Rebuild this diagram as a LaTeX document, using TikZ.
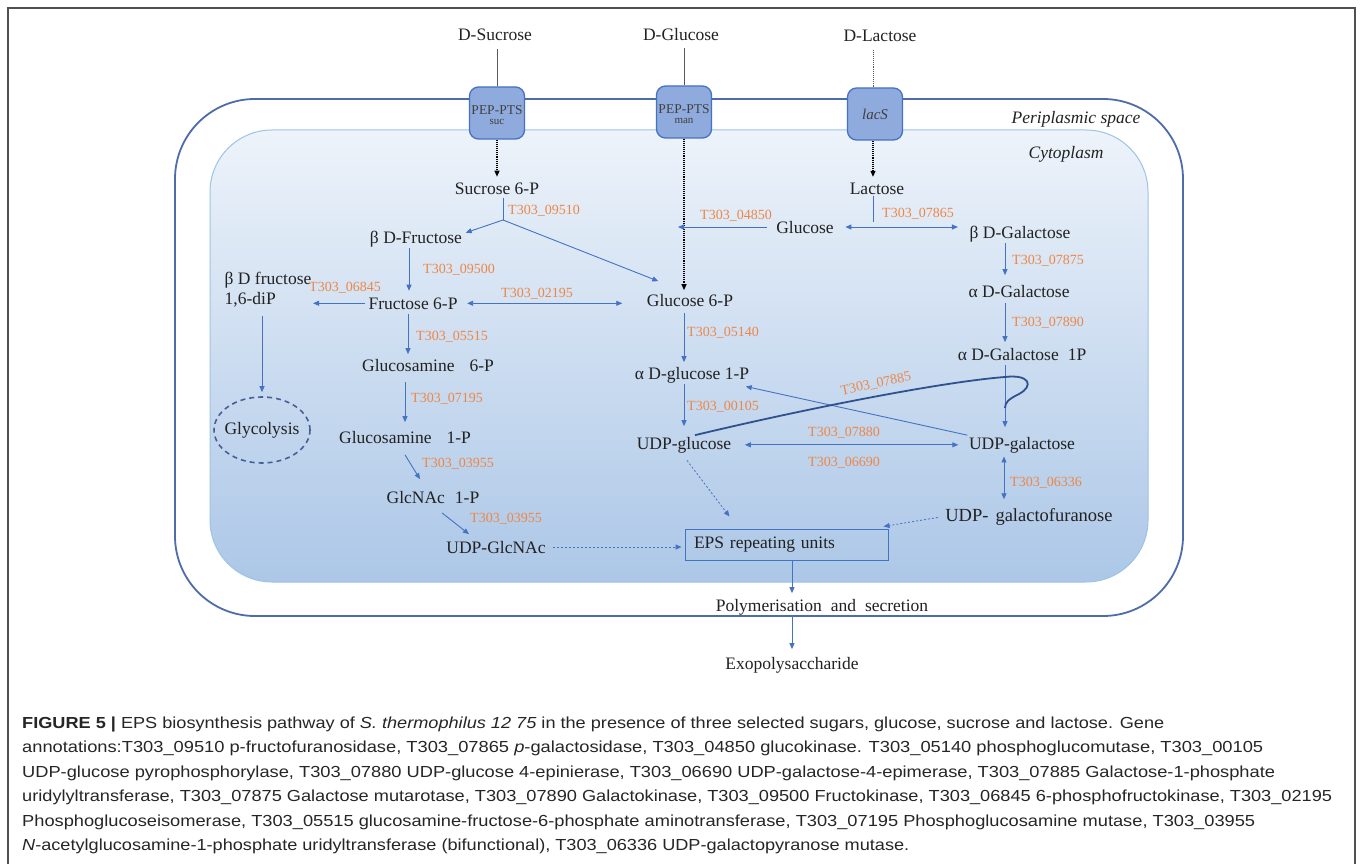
\documentclass[tikz,border=0pt]{standalone}
\usepackage{fontspec}
\setmainfont{Liberation Serif}
\newfontfamily\capfont{Liberation Sans}
\usepackage{graphicx}
\usetikzlibrary{arrows.meta,calc,shapes.geometric}
\definecolor{arrblue}{RGB}{68,114,196}
\definecolor{geneor}{RGB}{236,135,72}
\definecolor{curveblue}{RGB}{47,82,143}
\definecolor{boxfill}{RGB}{143,170,220}
\definecolor{boxline}{RGB}{68,114,196}
\definecolor{cellline}{RGB}{79,108,170}
\definecolor{cytoline}{RGB}{157,195,230}
\definecolor{cytotop}{RGB}{237,243,250}
\definecolor{cytomid}{RGB}{198,217,239}
\definecolor{cytobot}{RGB}{172,199,231}
\definecolor{txt}{RGB}{34,34,34}
\definecolor{framegray}{RGB}{80,80,80}
\definecolor{glycline}{RGB}{70,96,150}
\newsavebox\capboxA
\newcommand\capfirst{\textbf{FIGURE 5 |} EPS biosynthesis pathway of \textit{S. thermophilus 12 75} in the presence of three selected sugars, glucose, sucrose and lactose. Gene}
\begin{document}
\sbox\capboxA{\capfont\fontsize{16}{19}\selectfont\capfirst}
\pgfmathsetmacro\capfac{1142/\wd\capboxA}
\begin{tikzpicture}[x=1pt,y=-1pt,
  lbl/.style={font=\fontsize{17.5}{20}\selectfont, text=txt, inner sep=1.5pt, anchor=base},
  itl/.style={font=\fontsize{17.5}{20}\selectfont\itshape, text=txt, inner sep=1.5pt, anchor=base},
  gene/.style={font=\fontsize{14}{16}\selectfont, text=geneor, inner sep=1pt, anchor=base},
  tipend/.style={-{Triangle[length=6pt,width=5pt]}},
  arr/.style={draw=arrblue, line width=0.9pt, tipend},
  dblarr/.style={draw=arrblue, line width=0.9pt, {Triangle[length=6pt,width=5pt]}-{Triangle[length=6pt,width=5pt]}},
  plainblue/.style={draw=arrblue, line width=0.9pt},
  blkdot/.style={draw=black, densely dotted, line width=1.1pt, tipend},
  grayline/.style={draw=black!65, line width=0.9pt},
  dotblue/.style={draw=arrblue, dash pattern=on 2pt off 2pt, line width=0.8pt, tipend},
  tbox/.style={draw=boxline, fill=boxfill, line width=1.3pt, rounded corners=9pt,
    minimum width=55pt, minimum height=52pt, inner sep=0pt, align=center, text=black!75},
  epsbox/.style={draw=arrblue, line width=1pt, minimum width=203pt, minimum height=31pt,
    text width=185pt, align=left, inner xsep=9pt, inner ysep=0pt,
    font=\fontsize{17.5}{20}\selectfont, text=txt},
  glycnode/.style={ellipse, draw=glycline, dash pattern=on 5pt off 4pt, line width=1.6pt,
    minimum width=96pt, minimum height=66pt, inner sep=0pt, font=\fontsize{17.5}{20}\selectfont, text=txt},
  captext/.style={font=\capfont\fontsize{16}{19}\selectfont, text=black!85, inner sep=0pt, anchor=base west},
  loopline/.style={draw=curveblue, line width=1.8pt}
]
\useasboundingbox (0,0) rectangle (1360,864);
\fill[white] (0,0) rectangle (1360,864);
\draw[framegray, line width=1.4pt] (8,870) -- (8,8) -- (1355,8) -- (1355,870);

% cell envelope
\draw[cellline, line width=1.8pt, rounded corners=80pt, fill=white] (175,99) rectangle (1183,616);
\shade[top color=cytotop, middle color=cytomid, bottom color=cytobot, rounded corners=62pt] (210,130) rectangle (1148,582);
\draw[cytoline, line width=1pt, rounded corners=62pt] (210,130) rectangle (1148,582);

\node[itl] (peri) at (1076,124) {Periplasmic space};
\node[itl] (cyto) at (1066,158) {Cytoplasm};

% sugars outside
\node[lbl] (dsuc) at (495,41) {D-Sucrose};
\node[lbl] (dglc) at (681,41) {D-Glucose};
\node[lbl] (dlac) at (880,42) {D-Lactose};

% transporters
\node[tbox] (sucbox) at (497,113) {\rule{0pt}{14pt}\fontsize{13.5}{14}\selectfont PEP-PTS\\[-2pt]\fontsize{11}{12}\selectfont suc};
\node[tbox] (manbox) at (684,112) {\rule{0pt}{14pt}\fontsize{13.5}{14}\selectfont PEP-PTS\\[-2pt]\fontsize{11}{12}\selectfont man};
\node[tbox] (lacbox) at (875,114) {\fontsize{15}{16}\selectfont\itshape lacS};

% metabolites
\node[lbl] (suc6p) at (497,194) {Sucrose 6-P};
\node[lbl] (lac) at (877,194) {Lactose};
\node[lbl] (bfru) at (416,243) {β D-Fructose};
\node[lbl] (glc) at (805,233) {Glucose};
\node[lbl] (bgal) at (1020,238) {β D-Galactose};
\node[lbl] (fru6p) at (413,309) {Fructose 6-P};
\node[lbl, align=left, anchor=base west] (bfdp) at (223,304) {β D fructose\\1,6-diP};
\node[lbl] (glc6p) at (690,306) {Glucose 6-P};
\node[lbl] (agal) at (1019,297) {α D-Galactose};
\node[lbl] (agal1p) at (1022,360) {α D-Galactose\hspace{9pt}1P};
\node[lbl] (gln6p) at (428,371) {Glucosamine\hspace{15pt}6-P};
\node[lbl] (aglc1p) at (692,379) {α D-glucose 1-P};
\node[lbl] (gln1p) at (405,443) {Glucosamine\hspace{15pt}1-P};
\node[lbl] (udpglc) at (684,449) {UDP-glucose};
\node[lbl] (udpgal) at (1022,449) {UDP-galactose};
\node[glycnode] (glyc) at (262,430) {\makebox[0pt]{Glycolysis}};
\node[lbl] (glcnac1p) at (433,503) {GlcNAc\hspace{10pt}1-P};
\node[lbl] (udpglcnac) at (496,553) {UDP-GlcNAc};
\node[lbl, font=\fontsize{18.5}{20}\selectfont] (udpgalf) at (1029,521) {UDP-\hspace{7pt}galactofuranose};
\node[epsbox] (eps) at (786.5,544.5) {EPS repeating units};
\node[lbl] (poly) at (822,611) {Polymerisation\hspace{9pt}and\hspace{9pt}secretion};
\node[lbl] (exo) at (792,669) {Exopolysaccharide};

% gene labels
\node[gene] (g09510) at (544,214.5) {T303\_09510};
\node[gene] (g04850) at (736,219.5) {T303\_04850};
\node[gene] (g07865) at (918,217.5) {T303\_07865};
\node[gene] (g09500) at (459,273.5) {T303\_09500};
\node[gene] (g06845) at (345,291.5) {T303\_06845};
\node[gene] (g02195) at (537,297.5) {T303\_02195};
\node[gene] (g07875) at (1048,264.5) {T303\_07875};
\node[gene] (g07890) at (1048,326.5) {T303\_07890};
\node[gene] (g05515) at (452,340.5) {T303\_05515};
\node[gene] (g05140) at (723,336.5) {T303\_05140};
\node[gene] (g07195) at (447,402.5) {T303\_07195};
\node[gene] (g00105) at (723,410.5) {T303\_00105};
\node[gene, anchor=center, rotate=12] (g07885) at (876,384) {T303\_07885};
\node[gene] (g07880) at (844,436.5) {T303\_07880};
\node[gene] (g06690) at (844,466.5) {T303\_06690};
\node[gene] (g03955a) at (458,467.5) {T303\_03955};
\node[gene] (g03955b) at (506,522.5) {T303\_03955};
\node[gene] (g06336) at (1046,486.5) {T303\_06336};

% uptake
\draw[grayline, shorten >=6pt] (sucbox.north) -- (sucbox.north |- dsuc.south);
\draw[grayline, shorten >=5pt] (manbox.north) -- (manbox.north |- dglc.south);
\draw[grayline, densely dotted, shorten >=6pt] ([xshift=-2pt]lacbox.north) -- ([xshift=-2pt]lacbox.north |- dlac.south);
\draw[blkdot, shorten >=4pt] (sucbox.south) -- (sucbox.south |- suc6p.north);
\draw[blkdot, shorten >=2pt] (manbox.south) -- (manbox.south |- glc6p.north);
\draw[blkdot, shorten >=4pt] ([xshift=-2pt]lacbox.south) -- ([xshift=-2pt]lacbox.south |- lac.north);

% sucrose branch
\coordinate (br1) at (503,220);
\draw[plainblue, shorten <=2pt] ([xshift=6pt]suc6p.south) -- (br1);
\draw[arr] (br1) -- ($(bfru.east)+(2,-6)$);
\draw[arr] (br1) -- ($(glc6p.north west)+(13,-11)$);

% lactose branch
\coordinate (br2) at (873,222);
\draw[plainblue] (lac.south -| br2) -- (br2);
\draw[dblarr, shorten <=10pt, shorten >=10pt] (glc.east) -- (glc.east -| bgal.west);
\draw[arr, shorten <=8pt, shorten >=-6pt] (glc.west) -- (glc.west -| manbox.south);

% fructose side
\draw[arr, shorten >=5pt] ([xshift=-7pt]bfru.south) -- ([xshift=-7pt]bfru.south |- fru6p.north);
\draw[arr, shorten <=2pt] (fru6p.west) -- (fru6p.west -| bfdp.east);
\draw[dblarr, shorten <=8pt, shorten >=23pt] (fru6p.east) -- (fru6p.east -| glc6p.west);
\draw[arr, shorten <=3pt, shorten >=3pt] ([xshift=-5pt]fru6p.south) -- ([xshift=-5pt]fru6p.south |- gln6p.north);
\draw[arr, shorten <=9pt, shorten >=7pt] (gln1p.north |- gln6p.south) -- (gln1p.north);
\draw[arr, shorten <=8pt, shorten >=4pt] (glyc.north |- bfdp.south) -- (glyc.north);
\draw[arr] ($(gln1p.south)+(0,10)$) -- ($(glcnac1p.north)+(-13,-10)$);
\draw[arr] ($(glcnac1p.south)+(9,8)$) -- ($(udpglcnac.north)+(-27,-5)$);
\draw[dotblue, shorten <=6pt, shorten >=3pt] (udpglcnac.east) -- (udpglcnac.east -| eps.west);

% glucose side
\draw[arr, shorten <=5pt, shorten >=3pt] ([xshift=-6pt]glc6p.south) -- ([xshift=-6pt]glc6p.south |- aglc1p.north);
\draw[arr, shorten >=9pt] (udpglc.north |- aglc1p.south) -- (udpglc.north);
\draw[dotblue] ($(udpglc.south)+(3,6)$) -- ($(eps.north west)+(45,-12)$);
\draw[dblarr, shorten <=12pt, shorten >=9pt] (udpglc.east) -- (udpglc.east -| udpgal.west);

% galactose side
\draw[arr, shorten >=8pt] ([xshift=-15pt]bgal.south) -- ([xshift=-15pt]bgal.south |- agal.north);
\draw[arr, shorten <=4pt, shorten >=4pt] ([xshift=-14pt]agal.south) -- ([xshift=-14pt]agal.south |- agal1p.north);
\draw[arr, shorten <=3pt, shorten >=8pt] ([xshift=-17pt]agal1p.south) -- ([xshift=-17pt]agal1p.south |- udpgal.north);
\draw[arr] (udpgal.north west) -- ($(aglc1p.south east)+(-5,2)$);
\draw[dblarr, shorten <=2pt, shorten >=7pt] ([xshift=-18pt]udpgal.south) -- ([xshift=-18pt]udpgal.south |- udpgalf.north);
\draw[dotblue, shorten <=6pt] (udpgalf.west) -- ($(eps.north east)+(-5,-2)$);

% T303_07885 loop
\coordinate (loopend) at (1005,408);
\draw[loopline] ([xshift=11pt]udpglc.north) .. controls (800,410) and (940,382) .. (1005,377)
   .. controls (1030,374) and (1034,386) .. (1019,394)
   .. controls (1009,399) and (1005,402) .. (loopend);

% export
\draw[arr, shorten >=4pt] (eps.south -| exo.north) -- (exo.north |- poly.north);
\draw[arr, shorten >=6pt] (poly.south -| exo.north) -- (exo.north);

% caption
\node[captext] (cap1) at (22,728) {\resizebox{1142pt}{\height}{\capfirst}};
\node[captext] (cap2) at (22,752.5) {\resizebox{1241pt}{\height}{annotations:T303\_09510 p-fructofuranosidase, T303\_07865 \textit{p}-galactosidase, T303\_04850 glucokinase. T303\_05140 phosphoglucomutase, T303\_00105}};
\node[captext] (cap3) at (22,777) {\resizebox{1253pt}{\height}{UDP-glucose pyrophosphorylase, T303\_07880 UDP-glucose 4-epinierase, T303\_06690 UDP-galactose-4-epimerase, T303\_07885 Galactose-1-phosphate}};
\node[captext] (cap4) at (22,801.5) {\resizebox{1310pt}{\height}{uridylyltransferase, T303\_07875 Galactose mutarotase, T303\_07890 Galactokinase, T303\_09500 Fructokinase, T303\_06845 6-phosphofructokinase, T303\_02195}};
\node[captext] (cap5) at (22,826) {\resizebox{1233pt}{\height}{Phosphoglucoseisomerase, T303\_05515 glucosamine-fructose-6-phosphate aminotransferase, T303\_07195 Phosphoglucosamine mutase, T303\_03955}};
\node[captext] (cap6) at (22,850.5) {\scalebox{\capfac}[1]{\textit{N}-acetylglucosamine-1-phosphate uridyltransferase (bifunctional), T303\_06336 UDP-galactopyranose mutase.}};
\end{tikzpicture}
\end{document}
